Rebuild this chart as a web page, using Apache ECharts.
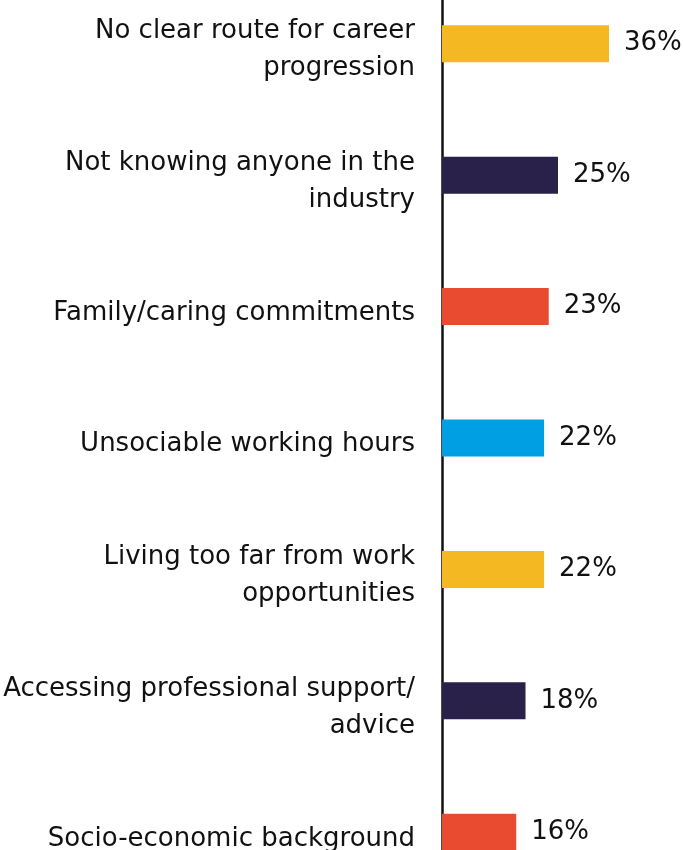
<!DOCTYPE html>
<html>
<head>
<meta charset="utf-8">
<script src="https://cdn.jsdelivr.net/npm/echarts@6/dist/echarts.min.js"></script>
<style>
  html, body { margin: 0; padding: 0; background: #ffffff; }
  #chart { width: 683px; height: 850px; }
</style>
</head>
<body>
<div id="chart"></div>
<script>
// Barriers to career progression, share of respondents (%)
const categories = [
  'No clear route for career\nprogression',
  'Not knowing anyone in the\nindustry',
  'Family/caring commitments',
  'Unsociable working hours',
  'Living too far from work\nopportunities',
  'Accessing professional support/\nadvice',
  'Socio-economic background'
];
const values = [36, 25, 23, 22, 22, 18, 16];

// Bar fills cycle through the brand palette
const barColors = ['#F4B823', '#29214A', '#E84B30', '#009FE3', '#F4B823', '#29214A', '#E84B30'];

const FONT = '"DejaVu Sans", sans-serif';

const chart = echarts.init(document.getElementById('chart'), null, { renderer: 'canvas' });

chart.setOption({
  animation: false,
  backgroundColor: '#ffffff',
  grid: {
    left: 442, right: 9, top: -22, bottom: -48,
    containLabel: false,
    outerBoundsMode: 'none'
  },
  xAxis: {
    type: 'value',
    min: 0,
    max: 50,
    show: false
  },
  yAxis: {
    type: 'category',
    inverse: true,
    data: categories,
    axisLine: { show: true, lineStyle: { color: '#111111', width: 2.5 } },
    axisTick: { show: false },
    splitLine: { show: false },
    axisLabel: {
      margin: 27,
      align: 'right',
      // a thin empty strip above each label nudges the text slightly below the bar centre
      formatter: (v) => '{gap| }\n' + v.split('\n').map((l) => '{t|' + l + '}').join('\n'),
      rich: {
        gap: { height: 13, lineHeight: 13, fontSize: 2 },
        t: { color: '#111111', fontFamily: FONT, fontSize: 26, lineHeight: 37 }
      }
    }
  },
  series: [{
    type: 'bar',
    data: values.map((v, i) => ({ value: v, itemStyle: { color: barColors[i] } })),
    barWidth: 37,
    label: {
      show: true,
      position: 'right',
      distance: 15,
      formatter: '{c}%',
      color: '#111111',
      fontFamily: FONT,
      fontSize: 26
    }
  }]
});
</script>
</body>
</html>
